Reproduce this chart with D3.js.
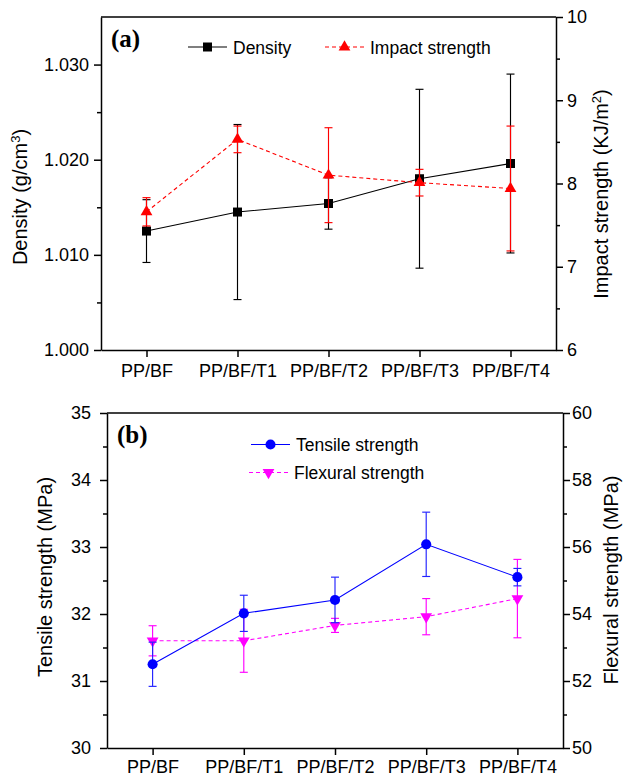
<!DOCTYPE html>
<html lang="en">
<head>
<meta charset="utf-8">
<script src="https://d3js.org/d3.v7.min.js"></script>
<style>
    body { margin: 0; background: #fff; }
    svg { display: block; font-family: Arial, "Liberation Sans", sans-serif; }
    .axis path, .axis line { stroke: #000; stroke-width: 1.5; }
    .axis text { font-size: 18px; fill: #000; }
    .title { font-size: 20px; fill: #000; }
    .legend { font-size: 17.5px; fill: #000; }
    .tag { font-family: "Liberation Serif", "Times New Roman", serif; font-weight: bold; font-size: 25px; }
</style>
</head>
<body>
<script>
    // data
    var categories = ["PP/BF", "PP/BF/T1", "PP/BF/T2", "PP/BF/T3", "PP/BF/T4"];

    var density    = [1.0125, 1.0145, 1.0154, 1.0180, 1.0196];
    var densityErr = [0.0033, 0.0092, 0.0027, 0.0094, 0.0094];
    var impact     = [7.66, 8.53, 8.10, 8.01, 7.94];
    var impactErr  = [0.17, 0.16, 0.57, 0.16, 0.75];

    var tensile     = [31.25, 32.01, 32.21, 33.04, 32.55];
    var tensileErr  = [0.33, 0.27, 0.34, 0.48, 0.13];
    var flexural    = [53.20, 53.20, 53.66, 53.92, 54.46];
    var flexuralErr = [0.45, 0.94, 0.21, 0.54, 1.17];

    var densityTicks  = [1.000, 1.010, 1.020, 1.030];
    var densityMinor  = [1.005, 1.015, 1.025];
    var impactTicks   = [6, 7, 8, 9, 10];
    var impactMinor   = [6.5, 7.5, 8.5, 9.5];
    var tensileTicks  = [30, 31, 32, 33, 34, 35];
    var tensileMinor  = [30.5, 31.5, 32.5, 33.5, 34.5];
    var flexuralTicks = [50, 52, 54, 56, 58, 60];
    var flexuralMinor = [51, 53, 55, 57, 59];

    var width = 624, height = 779;

    var svg = d3.select("body")
        .append("svg")
        .attr("width", width)
        .attr("height", height);

    var square   = d3.symbol().type(d3.symbolSquare).size(81)();
    var triangle = d3.symbol().type(d3.symbolTriangle).size(60)();
    var circle   = d3.symbol().type(d3.symbolCircle).size(80)();

    function errorBars(g, x, y, vals, errs, color) {
        var bars = g.append("g")
            .attr("stroke", color)
            .attr("stroke-width", 1.15)
            .attr("fill", "none");
        vals.forEach(function (v, i) {
            var cx = x(categories[i]);
            var top = y(v + errs[i]), bot = y(v - errs[i]);
            bars.append("line").attr("x1", cx).attr("x2", cx).attr("y1", top).attr("y2", bot);
            bars.append("line").attr("x1", cx - 4).attr("x2", cx + 4).attr("y1", top).attr("y2", top);
            bars.append("line").attr("x1", cx - 4).attr("x2", cx + 4).attr("y1", bot).attr("y2", bot);
        });
    }

    function series(g, x, y, vals, color, dash, symbol, rot) {
        var line = d3.line()
            .x(function (d, i) { return x(categories[i]); })
            .y(function (d) { return y(d); });
        g.append("path")
            .datum(vals)
            .attr("d", line)
            .attr("fill", "none")
            .attr("stroke", color)
            .attr("stroke-width", 1.1)
            .attr("stroke-dasharray", dash);
        g.selectAll(null)
            .data(vals)
            .enter()
            .append("path")
            .attr("d", symbol)
            .attr("fill", color)
            .attr("transform", function (d, i) {
                return "translate(" + x(categories[i]) + "," + y(d) + ") rotate(" + rot + ")";
            });
    }

    function legendItem(x1, x2, y, color, dash, symbol, rot, label) {
        svg.append("line")
            .attr("x1", x1).attr("x2", x2).attr("y1", y).attr("y2", y)
            .attr("stroke", color).attr("stroke-width", 1.1)
            .attr("stroke-dasharray", dash);
        svg.append("path")
            .attr("d", symbol)
            .attr("fill", color)
            .attr("transform", "translate(" + ((x1 + x2) / 2) + "," + y + ") rotate(" + rot + ")");
        svg.append("text")
            .attr("class", "legend")
            .attr("x", x2 + 6)
            .attr("y", y + 6.5)
            .text(label);
    }

    // frame, axes and scales of one panel
    function panel(p) {
        var x = d3.scalePoint()
            .domain(categories)
            .range([p.left, p.right])
            .padding(0.5);
        var yl = d3.scaleLinear().domain(p.leftDomain).range([p.bottom, p.top]);
        var yr = d3.scaleLinear().domain(p.rightDomain).range([p.bottom, p.top]);

        // minor ticks
        svg.append("g").attr("class", "axis")
            .attr("transform", "translate(" + p.left + ",0)")
            .call(d3.axisLeft(yl).tickValues(p.leftMinor).tickSize(4).tickFormat(""))
            .select(".domain").remove();
        svg.append("g").attr("class", "axis")
            .attr("transform", "translate(" + p.right + ",0)")
            .call(d3.axisRight(yr).tickValues(p.rightMinor).tickSize(4).tickFormat(""))
            .select(".domain").remove();

        svg.append("g").attr("class", "axis")
            .attr("transform", "translate(" + p.left + ",0)")
            .call(d3.axisLeft(yl).tickValues(p.leftTicks).tickSize(7).tickSizeOuter(0)
                .tickPadding(p.leftPad).tickFormat(p.leftFormat));
        svg.append("g").attr("class", "axis")
            .attr("transform", "translate(" + p.right + ",0)")
            .call(d3.axisRight(yr).tickValues(p.rightTicks).tickSize(7).tickSizeOuter(0)
                .tickPadding(p.rightPad).tickFormat(d3.format("d")));
        svg.append("g").attr("class", "axis")
            .attr("transform", "translate(0," + p.bottom + ")")
            .call(d3.axisBottom(x).tickSize(7).tickSizeOuter(0).tickPadding(p.xPad));

        // top frame line
        svg.append("line")
            .attr("x1", p.left).attr("x2", p.right)
            .attr("y1", p.top).attr("y2", p.top)
            .attr("stroke", "#000").attr("stroke-width", 1.5);

        return { x: x, yl: yl, yr: yr, g: svg.append("g") };
    }

    // (a) density / impact strength
    var a = panel({
        left: 101, right: 556, top: 17, bottom: 350,
        leftDomain: [1.000, 1.035], rightDomain: [6, 10],
        leftTicks: densityTicks, leftMinor: densityMinor,
        rightTicks: impactTicks, rightMinor: impactMinor,
        leftFormat: d3.format(".3f"), leftPad: 5, rightPad: 4, xPad: 7
    });
    errorBars(a.g, a.x, a.yl, density, densityErr, "#000");
    series(a.g, a.x, a.yl, density, "#000", null, square, 0);
    errorBars(a.g, a.x, a.yr, impact, impactErr, "#ff0000");
    series(a.g, a.x, a.yr, impact, "#ff0000", "4,3", triangle, 0);

    // (b) tensile / flexural strength
    var b = panel({
        left: 107, right: 563, top: 413, bottom: 748,
        leftDomain: [30, 35], rightDomain: [50, 60],
        leftTicks: tensileTicks, leftMinor: tensileMinor,
        rightTicks: flexuralTicks, rightMinor: flexuralMinor,
        leftFormat: d3.format("d"), leftPad: 9, rightPad: 2, xPad: 5
    });
    errorBars(b.g, b.x, b.yr, flexural, flexuralErr, "#ff00ff");
    series(b.g, b.x, b.yr, flexural, "#ff00ff", "4,3", triangle, 180);
    errorBars(b.g, b.x, b.yl, tensile, tensileErr, "#2222ff");
    series(b.g, b.x, b.yl, tensile, "#0000ff", null, circle, 0);

    // legends
    legendItem(188, 227, 47, "#000", null, square, 0, "Density");
    legendItem(325, 364, 47, "#ff0000", "4,3", triangle, 0, "Impact strength");
    legendItem(251, 290, 444.5, "#0000ff", null, circle, 0, "Tensile strength");
    legendItem(249, 288, 472.5, "#ff00ff", "4,3", triangle, 180, "Flexural strength");

    // panel tags
    svg.append("text").attr("class", "tag").attr("x", 111).attr("y", 47).text("(a)");
    svg.append("text").attr("class", "tag").attr("x", 117).attr("y", 443).text("(b)");

    // axis titles
    function title(x, y, parts) {
        var t = svg.append("text")
            .attr("class", "title")
            .attr("text-anchor", "middle")
            .attr("transform", "translate(" + x + "," + y + ") rotate(-90)");
        parts.forEach(function (part) {
            var s = t.append("tspan").text(part[0]);
            if (part[1]) s.attr("baseline-shift", "super").attr("font-size", "13px");
        });
    }
    title(27, 197, [["Density (g/cm"], ["3", true], [")"]]);
    title(608, 194, [["Impact strength (KJ/m"], ["2", true], [")"]]);
    title(51.5, 577, [["Tensile strength (MPa)"]]);
    title(618, 580, [["Flexural strength (MPa)"]]);
</script>
</body>
</html>
